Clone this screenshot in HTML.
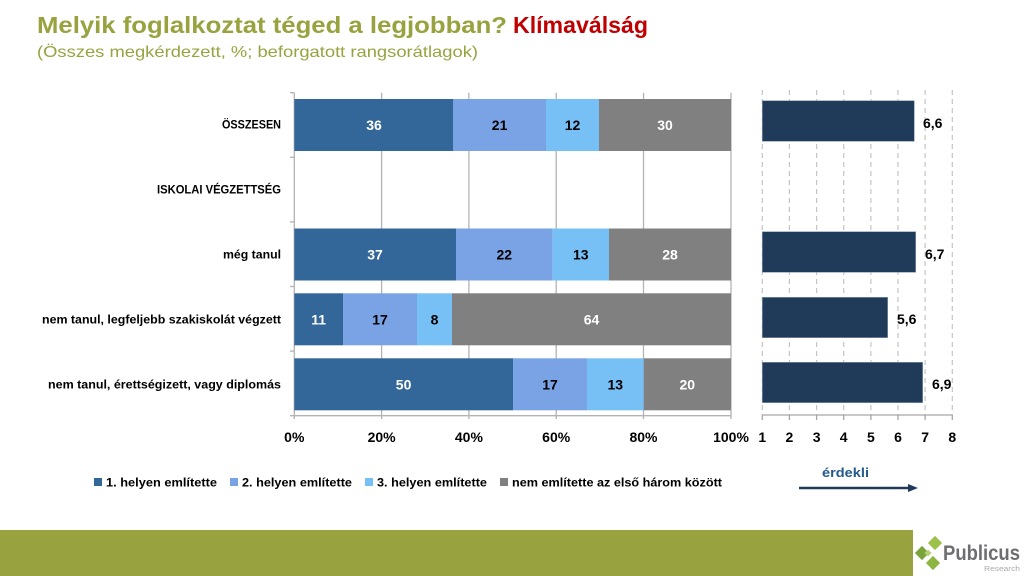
<!DOCTYPE html>
<html>
<head>
<meta charset="utf-8">
<style>
html,body{margin:0;padding:0;background:#fff;}
svg{display:block;}
text{font-family:"Liberation Sans","DejaVu Sans",sans-serif;}
</style>
</head>
<body>
<svg width="1024" height="576" viewBox="0 0 1024 576" xmlns="http://www.w3.org/2000/svg">
  <rect x="0" y="0" width="1024" height="576" fill="#ffffff"/>

  <!-- Title -->
  <text x="37" y="33" font-size="23" font-weight="bold" fill="#98a33f" textLength="470" lengthAdjust="spacingAndGlyphs">Melyik foglalkoztat téged a legjobban?</text>
  <text x="513" y="33" font-size="23" font-weight="bold" fill="#c00000" textLength="135" lengthAdjust="spacingAndGlyphs">Klímaválság</text>
  <text x="37" y="57" font-size="16" fill="#98a33f" textLength="441" lengthAdjust="spacingAndGlyphs">(Összes megkérdezett, %; beforgatott rangsorátlagok)</text>

  <!-- Left chart gridlines -->
  <g stroke="#b3b3b3" stroke-width="1.3">
    <line x1="381.6" y1="92.7" x2="381.6" y2="419"/>
    <line x1="468.9" y1="92.7" x2="468.9" y2="419"/>
    <line x1="556.2" y1="92.7" x2="556.2" y2="419"/>
    <line x1="643.5" y1="92.7" x2="643.5" y2="419"/>
    <line x1="731" y1="92.7" x2="731" y2="419"/>
    <line x1="294.3" y1="415.7" x2="294.3" y2="419"/>
    <line x1="294.3" y1="415.7" x2="731" y2="415.7"/>
    <line x1="294.3" y1="92.7" x2="294.3" y2="415.7"/>
    <line x1="290" y1="92.7" x2="294.3" y2="92.7"/>
    <line x1="290" y1="157.3" x2="294.3" y2="157.3"/>
    <line x1="290" y1="221.9" x2="294.3" y2="221.9"/>
    <line x1="290" y1="286.5" x2="294.3" y2="286.5"/>
    <line x1="290" y1="351.1" x2="294.3" y2="351.1"/>
    <line x1="290" y1="415.7" x2="294.3" y2="415.7"/>
  </g>

  <!-- Left bars -->
  <!-- Row 0 -->
  <rect x="294.3" y="99" width="159" height="52" fill="#336699"/>
  <rect x="453.3" y="99" width="92.7" height="52" fill="#7aa3e5"/>
  <rect x="546" y="99" width="53" height="52" fill="#76c0f5"/>
  <rect x="599" y="99" width="132" height="52" fill="#808080"/>
  <!-- Row 2 -->
  <rect x="294.3" y="228.5" width="161.7" height="52" fill="#336699"/>
  <rect x="456" y="228.5" width="96.7" height="52" fill="#7aa3e5"/>
  <rect x="552.7" y="228.5" width="56.3" height="52" fill="#76c0f5"/>
  <rect x="609" y="228.5" width="122" height="52" fill="#808080"/>
  <!-- Row 3 -->
  <rect x="294.3" y="293.3" width="48.7" height="52" fill="#336699"/>
  <rect x="343" y="293.3" width="74" height="52" fill="#7aa3e5"/>
  <rect x="417" y="293.3" width="35" height="52" fill="#76c0f5"/>
  <rect x="452" y="293.3" width="279" height="52" fill="#808080"/>
  <!-- Row 4 -->
  <rect x="294.3" y="358.3" width="218.7" height="52" fill="#336699"/>
  <rect x="513" y="358.3" width="74" height="52" fill="#7aa3e5"/>
  <rect x="587" y="358.3" width="56.7" height="52" fill="#76c0f5"/>
  <rect x="643.7" y="358.3" width="87.3" height="52" fill="#808080"/>

  <!-- Bar labels -->
  <g font-size="14" font-weight="bold" text-anchor="middle">
    <text x="374" y="130" fill="#ffffff">36</text>
    <text x="499.6" y="130" fill="#000000">21</text>
    <text x="572.5" y="130" fill="#000000">12</text>
    <text x="665" y="130" fill="#ffffff">30</text>

    <text x="375" y="259.5" fill="#ffffff">37</text>
    <text x="504.3" y="259.5" fill="#000000">22</text>
    <text x="580.8" y="259.5" fill="#000000">13</text>
    <text x="670" y="259.5" fill="#ffffff">28</text>

    <text x="318.6" y="324.3" fill="#ffffff">11</text>
    <text x="380" y="324.3" fill="#000000">17</text>
    <text x="434.5" y="324.3" fill="#000000">8</text>
    <text x="591.5" y="324.3" fill="#ffffff">64</text>

    <text x="403.6" y="389.3" fill="#ffffff">50</text>
    <text x="550" y="389.3" fill="#000000">17</text>
    <text x="615.3" y="389.3" fill="#000000">13</text>
    <text x="687.3" y="389.3" fill="#ffffff">20</text>
  </g>

  <!-- Category labels -->
  <g font-size="12" font-weight="bold" fill="#000000">
    <text x="222" y="128.5" textLength="59" lengthAdjust="spacingAndGlyphs">ÖSSZESEN</text>
    <text x="157" y="193.5" textLength="124" lengthAdjust="spacingAndGlyphs">ISKOLAI VÉGZETTSÉG</text>
    <text x="223" y="258.5" textLength="58" lengthAdjust="spacingAndGlyphs">még tanul</text>
    <text x="42" y="323.5" textLength="239" lengthAdjust="spacingAndGlyphs">nem tanul, legfeljebb szakiskolát végzett</text>
    <text x="48" y="388.5" textLength="233" lengthAdjust="spacingAndGlyphs">nem tanul, érettségizett, vagy diplomás</text>
  </g>

  <!-- Left axis tick labels -->
  <g font-size="14" font-weight="bold" fill="#000000" text-anchor="middle">
    <text x="294.3" y="442">0%</text>
    <text x="381.6" y="442">20%</text>
    <text x="468.9" y="442">40%</text>
    <text x="556.2" y="442">60%</text>
    <text x="643.5" y="442">80%</text>
    <text x="731" y="442">100%</text>
  </g>

  <!-- Right chart gridlines -->
  <g stroke="#c4c4c4" stroke-width="1.2" stroke-dasharray="5,4">
    <line x1="762.3" y1="90" x2="762.3" y2="415"/>
    <line x1="789.4" y1="90" x2="789.4" y2="415"/>
    <line x1="816.6" y1="90" x2="816.6" y2="415"/>
    <line x1="843.7" y1="90" x2="843.7" y2="415"/>
    <line x1="870.9" y1="90" x2="870.9" y2="415"/>
    <line x1="898" y1="90" x2="898" y2="415"/>
    <line x1="925.1" y1="90" x2="925.1" y2="415"/>
    <line x1="952.3" y1="90" x2="952.3" y2="415"/>
  </g>
  <g stroke="#a6a6a6" stroke-width="1.3">
    <line x1="762.3" y1="415" x2="952.3" y2="415"/>
    <line x1="762.3" y1="415" x2="762.3" y2="420"/>
    <line x1="789.4" y1="415" x2="789.4" y2="420"/>
    <line x1="816.6" y1="415" x2="816.6" y2="420"/>
    <line x1="843.7" y1="415" x2="843.7" y2="420"/>
    <line x1="870.9" y1="415" x2="870.9" y2="420"/>
    <line x1="898" y1="415" x2="898" y2="420"/>
    <line x1="925.1" y1="415" x2="925.1" y2="420"/>
    <line x1="952.3" y1="415" x2="952.3" y2="420"/>
  </g>

  <!-- Right bars -->
  <g fill="#203a5a" stroke="#8a9bb0" stroke-width="0.6">
    <rect x="762.3" y="100.7" width="152" height="40.6"/>
    <rect x="762.3" y="231.7" width="153.4" height="40.6"/>
    <rect x="762.3" y="297.3" width="125.4" height="40.4"/>
    <rect x="762.3" y="362.3" width="160.4" height="40.4"/>
  </g>
  <g font-size="14" font-weight="bold" fill="#000000">
    <text x="923" y="128">6,6</text>
    <text x="925" y="259">6,7</text>
    <text x="897" y="324">5,6</text>
    <text x="932" y="389">6,9</text>
  </g>

  <!-- Right axis tick labels -->
  <g font-size="14" font-weight="bold" fill="#000000" text-anchor="middle">
    <text x="762.3" y="442">1</text>
    <text x="789.4" y="442">2</text>
    <text x="816.6" y="442">3</text>
    <text x="843.7" y="442">4</text>
    <text x="870.9" y="442">5</text>
    <text x="898" y="442">6</text>
    <text x="925.1" y="442">7</text>
    <text x="952.3" y="442">8</text>
  </g>

  <!-- érdekli arrow -->
  <text x="822" y="477" font-size="13" font-weight="bold" fill="#245a8c" textLength="47" lengthAdjust="spacingAndGlyphs">érdekli</text>
  <line x1="799" y1="488" x2="910" y2="488" stroke="#203a5a" stroke-width="2.6"/>
  <polygon points="908,484 918,488 908,492" fill="#203a5a"/>

  <!-- Legend -->
  <g font-size="12" font-weight="bold" fill="#000000">
    <rect x="94" y="478" width="8" height="8" fill="#336699"/>
    <text x="106" y="486.5" textLength="111" lengthAdjust="spacingAndGlyphs">1. helyen említette</text>
    <rect x="230" y="478" width="8" height="8" fill="#7aa3e5"/>
    <text x="242" y="486.5" textLength="110" lengthAdjust="spacingAndGlyphs">2. helyen említette</text>
    <rect x="365" y="478" width="8" height="8" fill="#76c0f5"/>
    <text x="377" y="486.5" textLength="110" lengthAdjust="spacingAndGlyphs">3. helyen említette</text>
    <rect x="500" y="478" width="8" height="8" fill="#808080"/>
    <text x="512" y="486.5" textLength="210" lengthAdjust="spacingAndGlyphs">nem említette az első három között</text>
  </g>

  <!-- Footer band -->
  <rect x="0" y="530" width="913" height="46" fill="#98a33f"/>

  <!-- Logo -->
  <g>
    <rect x="-5" y="-5" width="10" height="10" fill="#9cc24a" transform="translate(935,543) rotate(45)"/>
    <rect x="-5" y="-5" width="10" height="10" fill="#7aa33a" transform="translate(922,553) rotate(45)"/>
    <rect x="-5" y="-5" width="10" height="10" fill="#8cb640" transform="translate(933,563) rotate(45)"/>
    <rect x="-2.5" y="-2.5" width="5" height="5" fill="#b5d173" transform="translate(928,553) rotate(45)"/>
  </g>
  <text x="943" y="560" font-size="21" font-weight="bold" fill="#6d6e71" textLength="77" lengthAdjust="spacingAndGlyphs">Publicus</text>
  <text x="984" y="571" font-size="7" fill="#aaaaaa" textLength="36" lengthAdjust="spacingAndGlyphs">Research</text>
</svg>
</body>
</html>
